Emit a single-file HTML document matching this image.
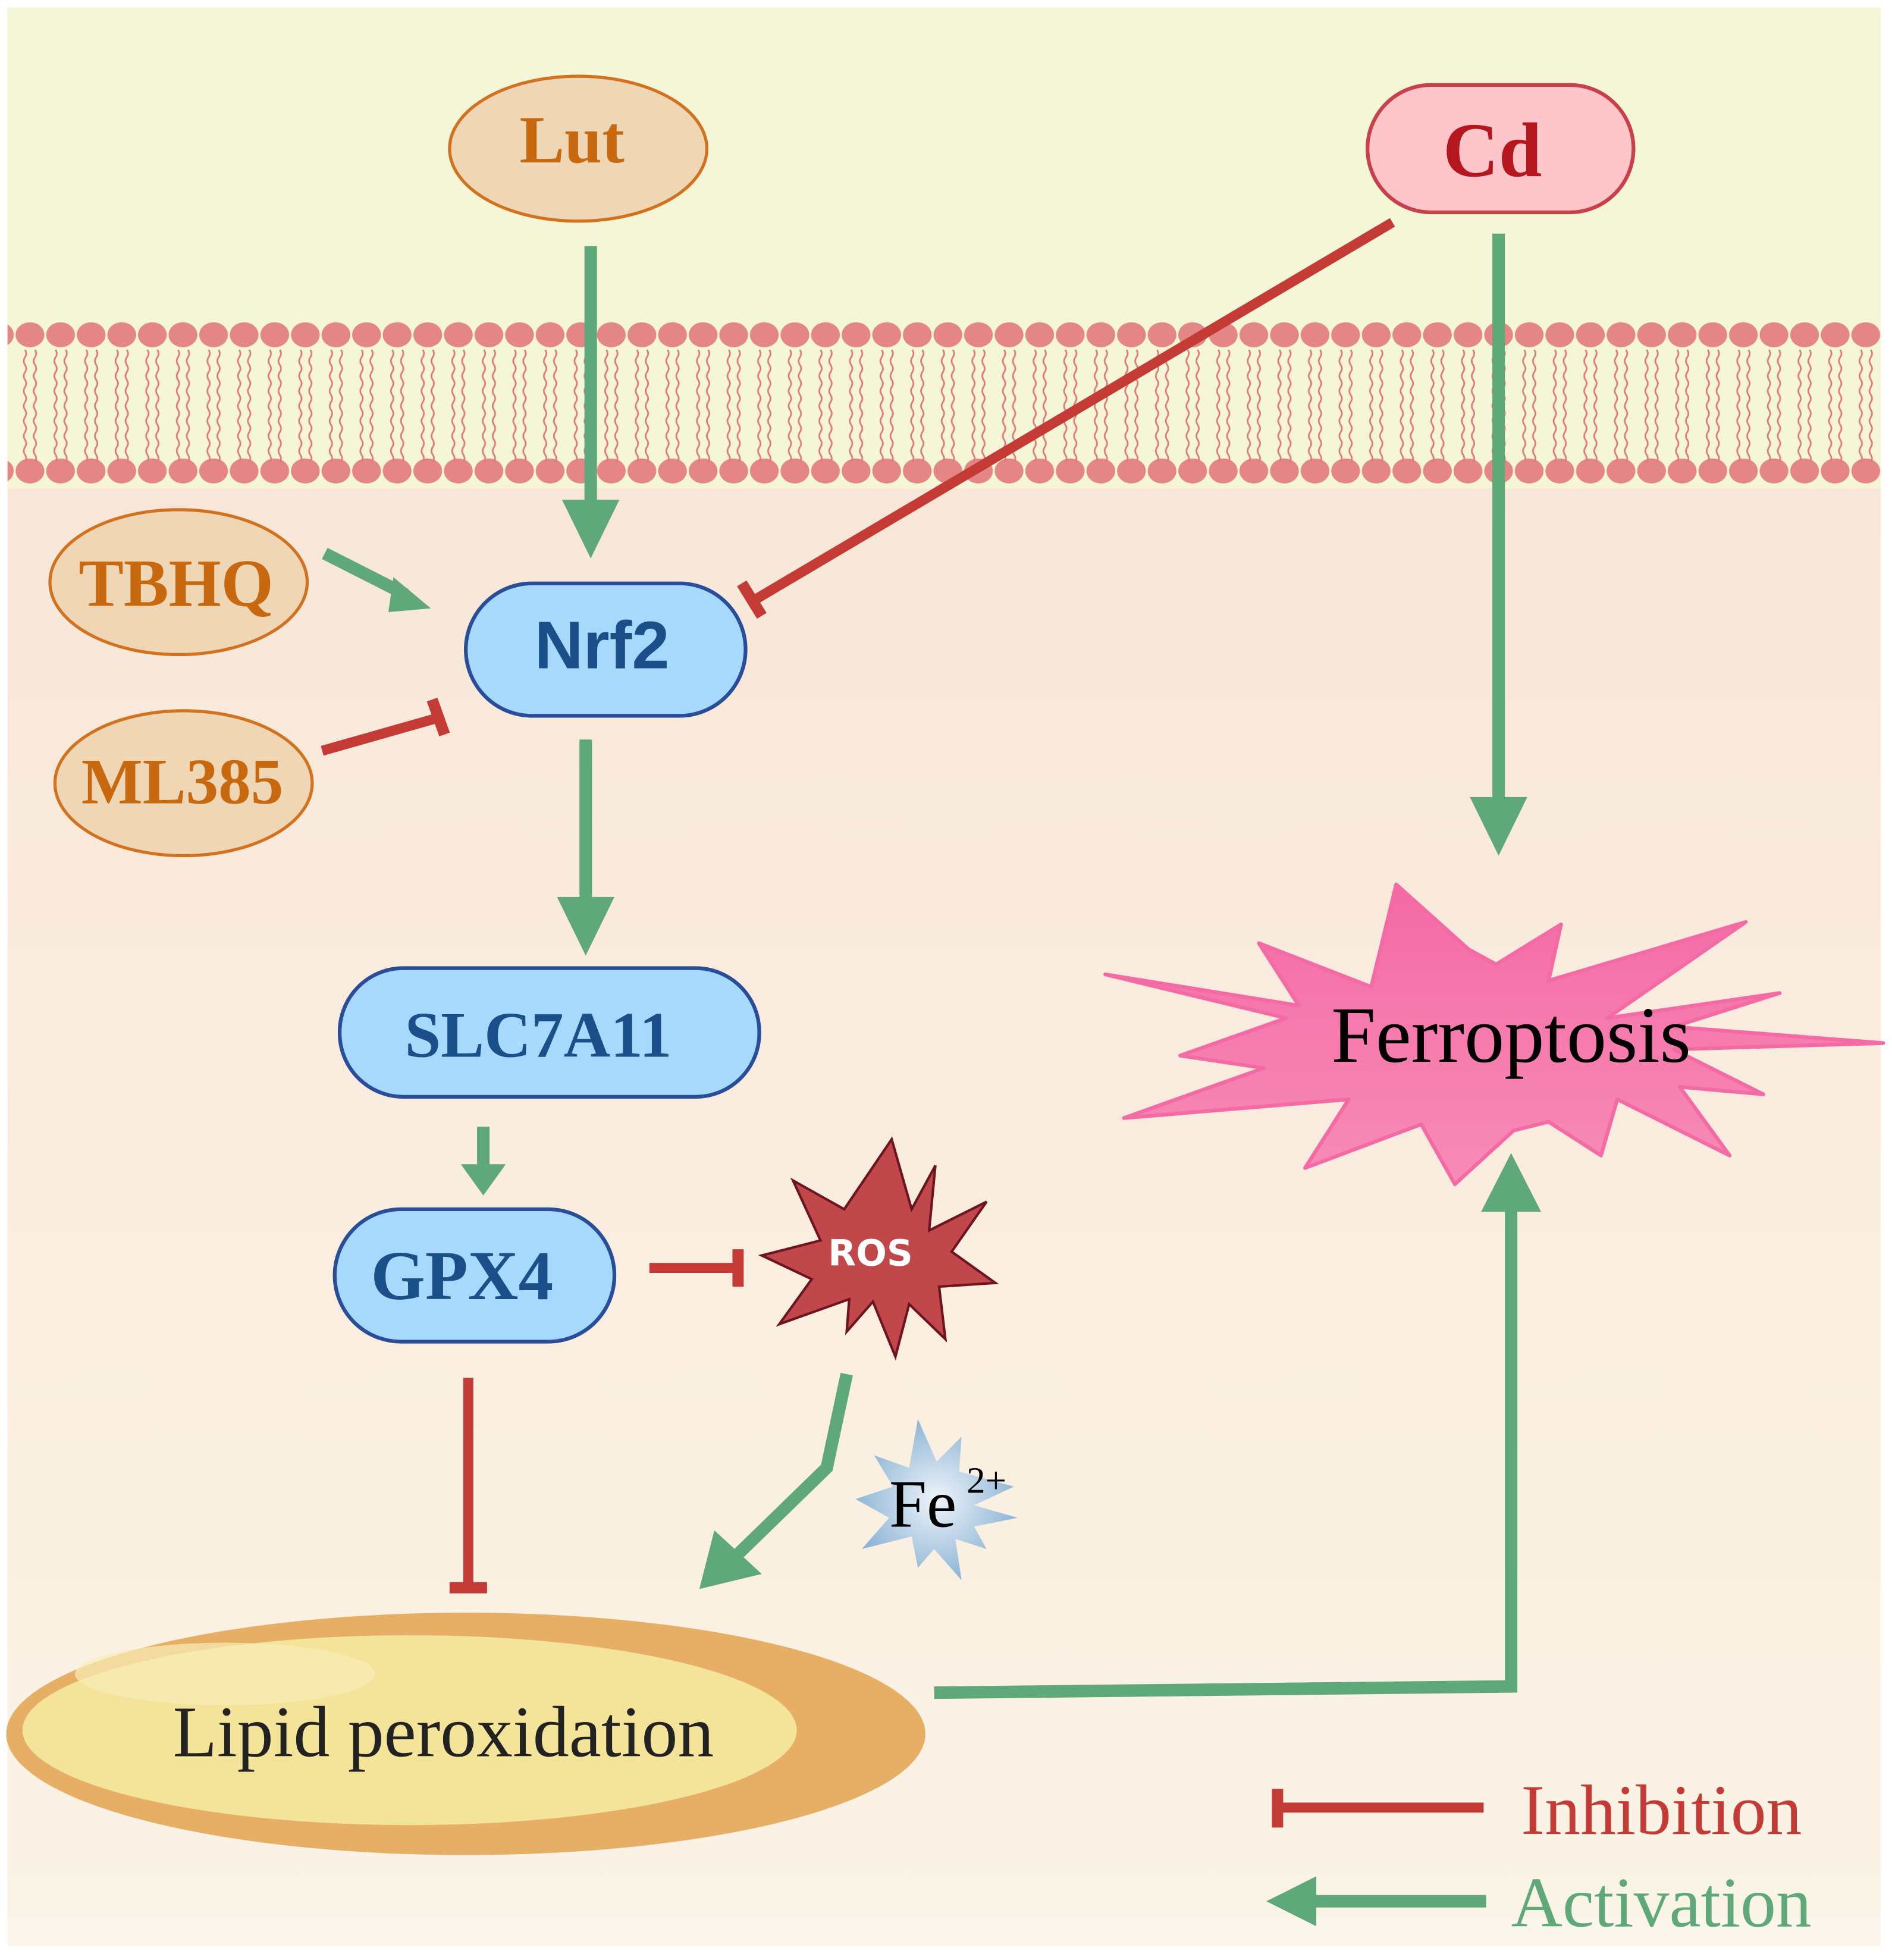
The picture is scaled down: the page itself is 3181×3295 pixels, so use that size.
<!DOCTYPE html>
<html><head><meta charset="utf-8"><style>html,body{margin:0;padding:0;background:#fff}svg{display:block}</style></head>
<body>
<svg width="3181" height="3295" viewBox="0 0 1515 1569" preserveAspectRatio="none" xmlns="http://www.w3.org/2000/svg">
<defs>
<linearGradient id="bg" x1="0" y1="0" x2="0" y2="1">
<stop offset="0" stop-color="#f7e3d3"/><stop offset="0.5" stop-color="#f9ebdd"/><stop offset="1" stop-color="#faf4e6"/>
</linearGradient>
<linearGradient id="fer" x1="0" y1="0" x2="0" y2="1"><stop offset="0" stop-color="#f46aa5"/><stop offset="1" stop-color="#f78cb6"/></linearGradient>
<radialGradient id="fe" cx="0.5" cy="0.5" r="0.5"><stop offset="0" stop-color="#eef4fa"/><stop offset="1" stop-color="#8fb6d6"/></radialGradient>
<pattern id="heads" x="12" y="0" width="24.5" height="1569" patternUnits="userSpaceOnUse">
<ellipse cx="12" cy="268" rx="11.5" ry="10" fill="#e58686"/>
<ellipse cx="12" cy="377" rx="11.5" ry="10" fill="#e58686"/>
<path d="M8 280 q2 3 0 6 q-2 3 0 6 q2 3 0 6 q-2 3 0 6 q2 3 0 6 q-2 3 0 6 q2 3 0 6 q-2 3 0 6 q2 3 0 6 q-2 3 0 6 q2 3 0 6 q-2 3 0 6 q2 3 0 6 q-2 3 0 6 q2 3 0 6" stroke="#e07a7a" stroke-width="1.3" fill="none"/>
<path d="M16 280 q2 3 0 6 q-2 3 0 6 q2 3 0 6 q-2 3 0 6 q2 3 0 6 q-2 3 0 6 q2 3 0 6 q-2 3 0 6 q2 3 0 6 q-2 3 0 6 q2 3 0 6 q-2 3 0 6 q2 3 0 6 q-2 3 0 6 q2 3 0 6" stroke="#e07a7a" stroke-width="1.3" fill="none"/>
</pattern>
</defs>
<rect x="0" y="0" width="1515" height="1569" fill="#fff"/>
<rect x="6" y="6" width="1500" height="1552" fill="url(#bg)"/>
<rect x="6" y="6" width="1500" height="385" fill="#f5f5d8"/>
<rect x="6" y="1535" width="1500" height="23" fill="#fbf6ec"/>
<rect x="6" y="255" width="1500" height="136" fill="url(#heads)"/>

<g stroke="#5fa87a" stroke-width="10" fill="none">
<line x1="473" y1="197" x2="473" y2="405"/>
<line x1="260" y1="443" x2="325" y2="476"/>
<line x1="1200" y1="187" x2="1200" y2="642"/>
<line x1="469" y1="592" x2="469" y2="722"/>
<line x1="387" y1="902" x2="387" y2="937"/>
<polyline points="678,1100 662,1175 590,1245"/>
<polyline points="748,1355 1210,1350 1210,968"/>
<line x1="1190" y1="1522" x2="1050" y2="1522"/>
</g>
<g fill="#5fa87a">
<polygon points="450,400 496,400 473,447"/>
<polygon points="315,462 345,487 311,490"/>
<polygon points="1177,638 1223,638 1200,685"/>
<polygon points="446,718 492,718 469,765"/>
<polygon points="369,932 405,932 387,957"/>
<polygon points="572,1225 610,1260 560,1272"/>
<polygon points="1186,970 1234,970 1210,923"/>
<polygon points="1054,1502 1054,1542 1014,1522"/>
</g>
<g stroke="#c43a35" stroke-width="8" fill="none">
<line x1="258" y1="601" x2="353" y2="574"/>
<line x1="346" y1="560" x2="356" y2="588" stroke-width="9"/>
<line x1="1115" y1="178" x2="603" y2="481"/>
<line x1="594" y1="467" x2="610" y2="493" stroke-width="9"/>
<line x1="520" y1="1015" x2="590" y2="1015"/>
<line x1="591" y1="1000" x2="591" y2="1030" stroke-width="9"/>
<line x1="375" y1="1103" x2="375" y2="1270"/>
<line x1="360" y1="1271" x2="390" y2="1271" stroke-width="9"/>
<line x1="1024" y1="1447" x2="1188" y2="1447"/>
<line x1="1023" y1="1432" x2="1023" y2="1463" stroke-width="9"/>
</g>

<ellipse cx="463" cy="119" rx="103" ry="58" fill="#efd7b6" stroke="#d2721e" stroke-width="2.5"/>
<text x="458" y="130" font-family="Liberation Serif,serif" font-weight="bold" font-size="54" fill="#c8680f" text-anchor="middle">Lut</text>
<rect x="1095" y="68" width="213" height="102" rx="51" fill="#fec5cb" stroke="#c8404a" stroke-width="3"/>
<text x="1195" y="141" font-family="Liberation Serif,serif" font-weight="bold" font-size="62" fill="#b5171f" text-anchor="middle">Cd</text>
<ellipse cx="143" cy="466" rx="103" ry="58" fill="#efd7b6" stroke="#d2721e" stroke-width="2.5"/>
<text x="141" y="485" font-family="Liberation Serif,serif" font-weight="bold" font-size="54" fill="#c8680f" text-anchor="middle">TBHQ</text>
<ellipse cx="147" cy="627" rx="103" ry="58" fill="#efd7b6" stroke="#d2721e" stroke-width="2.5"/>
<text x="146" y="643" font-family="Liberation Serif,serif" font-weight="bold" font-size="52" fill="#c8680f" text-anchor="middle">ML385</text>

<rect x="373" y="467" width="224" height="106" rx="53" fill="#a7d9fc" stroke="#2a4d9a" stroke-width="3"/>
<text x="482" y="535" font-family="Liberation Sans,sans-serif" font-weight="bold" font-size="54" fill="#1a4f8a" text-anchor="middle">Nrf2</text>
<rect x="272" y="775" width="336" height="103" rx="51" fill="#a7d9fc" stroke="#2a4d9a" stroke-width="3"/>
<text x="431" y="846" font-family="Liberation Serif,serif" font-weight="bold" font-size="52" fill="#1a4f8a" text-anchor="middle">SLC7A11</text>
<rect x="268" y="968" width="224" height="106" rx="53" fill="#a7d9fc" stroke="#2a4d9a" stroke-width="3"/>
<text x="370" y="1040" font-family="Liberation Serif,serif" font-weight="bold" font-size="56" fill="#1a4f8a" text-anchor="middle">GPX4</text>

<polygon points="714,912 730,968 749,933 744,985 790,962 762,1002 797,1027 752,1030 757,1072 728,1044 717,1086 699,1042 678,1066 680,1040 624,1060 650,1024 610,1005 657,993 635,945 676,968" fill="#c0474a" stroke="#6e1420" stroke-width="2"/>
<text x="697" y="1013" font-family="DejaVu Sans,sans-serif" font-weight="bold" font-size="29" fill="#fff" text-anchor="middle">ROS</text>

<polygon points="1118,708 1176,760 1198,772 1250,740 1240,785 1398,738 1287,815 1425,795 1340,822 1508,835 1340,840 1412,876 1345,870 1385,925 1295,880 1282,925 1240,898 1212,905 1165,948 1138,900 1045,935 1080,880 900,895 1012,855 945,845 1030,815 885,780 1040,805 1008,755 1098,790" fill="url(#fer)" stroke="#f46aa5" stroke-width="3" stroke-linejoin="round"/>
<text x="1210" y="850" font-family="Liberation Serif,serif" font-size="64" fill="#000" text-anchor="middle">Ferroptosis</text>

<polygon points="735,1136 750,1170 770,1150 768,1178 812,1190 780,1205 815,1215 780,1222 790,1240 765,1232 770,1265 748,1240 735,1255 730,1230 690,1240 712,1215 685,1200 715,1190 700,1165 728,1175" fill="url(#fe)"/>
<text x="712" y="1222" font-family="Liberation Serif,serif" font-size="54" fill="#000">Fe</text>
<text x="774" y="1195" font-family="Liberation Serif,serif" font-size="30" fill="#000">2+</text>

<ellipse cx="373" cy="1388" rx="368" ry="97" fill="#e6af65"/>
<ellipse cx="328" cy="1385" rx="310" ry="76" fill="#f4e49a"/>
<ellipse cx="180" cy="1340" rx="120" ry="25" fill="#f8edb8" opacity="0.7"/>
<text x="355" y="1406" font-family="Liberation Serif,serif" font-size="58" fill="#222" text-anchor="middle">Lipid peroxidation</text>

<text x="1218" y="1468" font-family="Liberation Serif,serif" font-size="57" fill="#c43a35">Inhibition</text>
<text x="1210" y="1542" font-family="Liberation Serif,serif" font-size="57" fill="#5fa87a">Activation</text>
</svg>
</body></html>
